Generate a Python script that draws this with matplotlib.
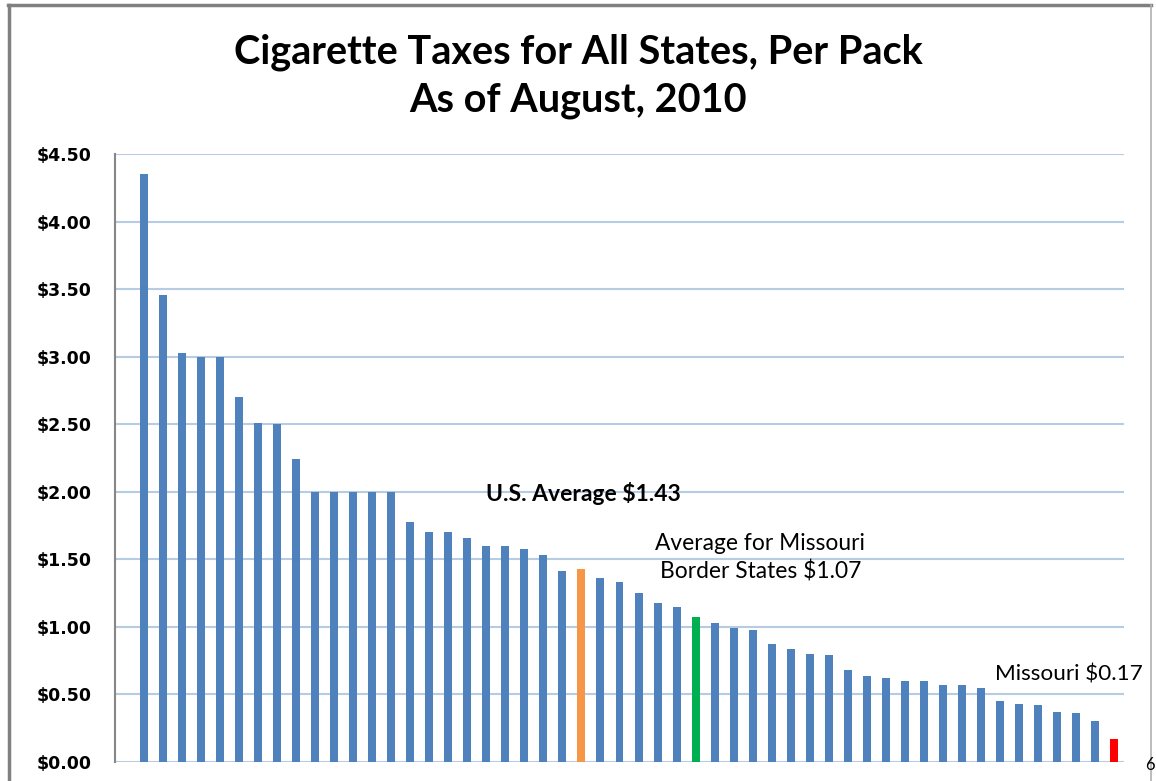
import numpy as np
import matplotlib
matplotlib.use("Agg")
import matplotlib.pyplot as plt
from matplotlib.lines import Line2D

# per pack tax, sorted high to low (50 states + the two averages)
taxes = [4.35, 3.46, 3.025, 3.00, 3.00, 2.70, 2.51, 2.50, 2.24, 2.00,
         2.00, 2.00, 2.00, 2.00, 1.78, 1.70, 1.70, 1.66, 1.60, 1.60,
         1.58, 1.53, 1.41, 1.43, 1.36, 1.33, 1.25, 1.18, 1.15, 1.07,
         1.03, 0.995, 0.98, 0.87, 0.84, 0.80, 0.79, 0.68, 0.64, 0.62,
         0.60, 0.60, 0.57, 0.57, 0.55, 0.45, 0.43, 0.42, 0.37, 0.36,
         0.30, 0.17]
us_avg_pos = 23
border_avg_pos = 29
missouri_pos = 51

yticks = [0, 0.5, 1.0, 1.5, 2.0, 2.5, 3.0, 3.5, 4.0, 4.5]
ytick_labels = ["$%.2f" % v for v in yticks]

bar_colors = ["#4f81bd"] * len(taxes)
bar_colors[us_avg_pos] = "#f79646"
bar_colors[border_avg_pos] = "#00b050"
bar_colors[missouri_pos] = "#ff0000"

fig = plt.figure(figsize=(11.56, 7.81), dpi=100)
ax = fig.add_axes([115 / 1156, 19 / 781, (1124 - 115) / 1156, (762 - 154) / 781])

x = np.arange(len(taxes))
ax.bar(x, taxes, width=0.42, color=bar_colors, zorder=3)

ax.set_xlim(-1.5, len(taxes) - 0.5)
ax.set_ylim(0, 4.5)
ax.set_xticks([])
ax.set_yticks(yticks)
ax.set_yticklabels(ytick_labels, fontsize=12.5, fontweight="bold", family="DejaVu Sans")
ax.tick_params(axis="y", length=0, pad=17)
ax.yaxis.grid(True, color="#b7cbe3", linewidth=1.5, zorder=0)
ax.set_axisbelow(True)
for side in ["top", "right", "bottom"]:
    ax.spines[side].set_visible(False)
ax.spines["left"].set_color("#868686")
ax.spines["left"].set_linewidth(1.5)

# title
fig.text(0.5, 1 - 76 / 781, "Cigarette Taxes for All States, Per Pack\nAs of August, 2010",
         ha="center", va="center", fontsize=28.5, fontweight="bold", family="Lato",
         linespacing=1.36)

# annotations
ax.text(18.0, 1.99, "U.S. Average $1.43", ha="left", va="center",
        fontsize=16.5, fontweight="bold", family="Lato")
ax.text(32.4, 1.51, "Average for Missouri\nBorder States $1.07", ha="center", va="center",
        fontsize=16.4, family="Lato", linespacing=1.35)
ax.text(44.7, 0.645, "Missouri $0.17", ha="left", va="center",
        fontsize=16.2, family="Lato", clip_on=False)

# page frame and page number
frame_kw = dict(transform=fig.transFigure, color="#808080", clip_on=False)
fig.add_artist(Line2D([8 / 1156, 1151 / 1156], [1 - 5 / 781, 1 - 5 / 781], linewidth=2.5, **frame_kw))
fig.add_artist(Line2D([9 / 1156, 9 / 1156], [0, 1 - 5 / 781], linewidth=2.5, **frame_kw))
fig.add_artist(Line2D([1151 / 1156, 1151 / 1156], [0, 1 - 5 / 781], linewidth=1.2,
                      transform=fig.transFigure, color="#b0b0b0", clip_on=False))
fig.text(1145 / 1156, 16 / 781, "6", fontsize=12, family="Lato", ha="left", va="center")

fig.savefig("out.png", dpi=100)
